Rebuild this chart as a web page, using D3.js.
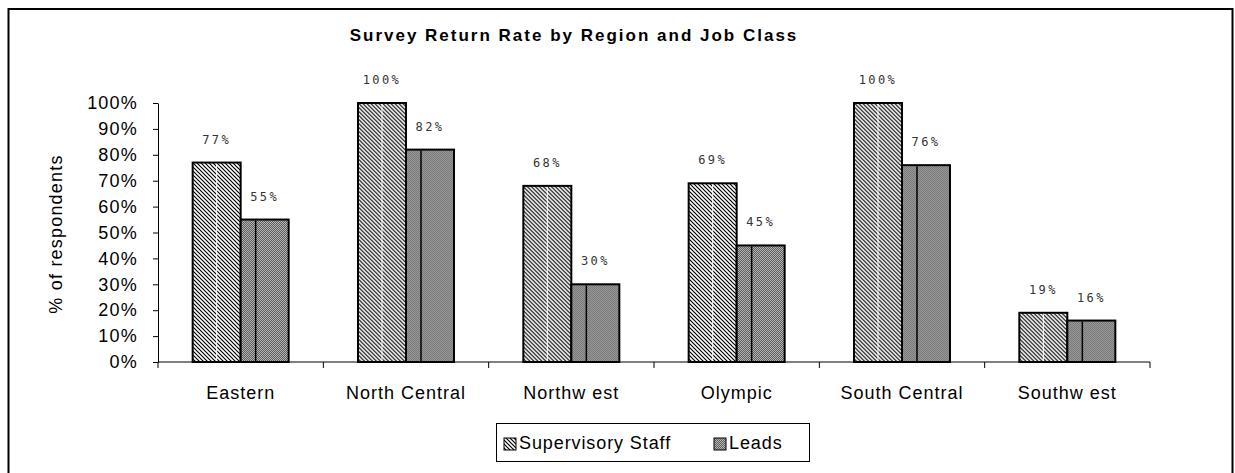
<!DOCTYPE html>
<html>
<head>
<meta charset="utf-8">
<script src="https://d3js.org/d3.v7.min.js"></script>
<style>
  body { margin: 0; background: #fff; }
  svg { display: block; font-family: "Liberation Sans", Arial, sans-serif; }
</style>
</head>
<body>
<div id="chart"></div>
<script>
// Chart data
const regions = ['Eastern', 'North Central', 'Northw est', 'Olympic', 'South Central', 'Southw est'];
const seriesNames = ['Supervisory Staff', 'Leads'];
const supervisory = [0.77, 1.00, 0.68, 0.69, 1.00, 0.19];
const leads = [0.55, 0.82, 0.30, 0.45, 0.76, 0.16];
const yTicks = [0, 0.1, 0.2, 0.3, 0.4, 0.5, 0.6, 0.7, 0.8, 0.9, 1.0];

const width = 1235;
const height = 473;

const svg = d3.select('#chart')
    .append('svg')
    .attr('width', width)
    .attr('height', height);

// Patterns for the bar fills
const defs = svg.append('defs');

const hatch = defs.append('pattern')
    .attr('id', 'hatch')
    .attr('patternUnits', 'userSpaceOnUse')
    .attr('width', 4)
    .attr('height', 4);
hatch.append('rect').attr('width', 4).attr('height', 4).attr('fill', '#fff');
hatch.append('path')
    .attr('d', 'M-1,-1 L5,5 M-1,3 L1,5 M3,-1 L5,1')
    .attr('stroke', '#000')
    .attr('stroke-width', 1.2);

const dense = defs.append('pattern')
    .attr('id', 'dense')
    .attr('patternUnits', 'userSpaceOnUse')
    .attr('width', 2)
    .attr('height', 2);
dense.append('rect').attr('width', 2).attr('height', 2).attr('fill', '#b4b4b4');
dense.append('path')
    .attr('d', 'M0,2 L2,0 M-1,1 L1,-1 M1,3 L3,1')
    .attr('stroke', '#3a3a3a')
    .attr('stroke-width', 0.7);

// Outer border
svg.append('rect')
    .attr('x', 8.5)
    .attr('y', 9)
    .attr('width', 1224)
    .attr('height', 475)
    .attr('fill', 'none')
    .attr('stroke', '#000')
    .attr('stroke-width', 2);

// Scales
const x0 = d3.scaleBand()
    .domain(regions)
    .range([158, 1150]);

const x1 = d3.scaleBand()
    .domain(seriesNames)
    .range([0, x0.bandwidth()])
    .paddingOuter(0.722);

const y = d3.scaleLinear()
    .domain([0, 1])
    .range([362, 103]);

const fills = { 'Supervisory Staff': 'url(#hatch)', 'Leads': 'url(#dense)' };

// Title
svg.append('text')
    .attr('x', 574)
    .attr('y', 41)
    .attr('text-anchor', 'middle')
    .attr('font-size', 17)
    .attr('font-weight', 'bold')
    .attr('letter-spacing', 2)
    .text('Survey Return Rate by Region and Job Class');

// Y axis
const yAxis = svg.append('g')
    .attr('transform', 'translate(158,0)')
    .call(d3.axisLeft(y)
        .tickValues(yTicks)
        .tickFormat(d3.format('.0%'))
        .tickSize(5)
        .tickSizeOuter(0)
        .tickPadding(15));
yAxis.selectAll('path, line').attr('stroke', '#000');
yAxis.selectAll('text')
    .attr('font-size', 18)
    .attr('font-family', '"Liberation Sans", Arial, sans-serif')
    .attr('letter-spacing', 1.2)
    .attr('fill', '#000');

svg.append('text')
    .attr('transform', 'translate(62,234) rotate(-90)')
    .attr('text-anchor', 'middle')
    .attr('font-size', 18)
    .attr('letter-spacing', 1.2)
    .text('% of respondents');

// Bars
const groups = svg.selectAll('g.region')
    .data(regions)
    .enter()
    .append('g')
    .attr('class', 'region')
    .attr('transform', d => `translate(${x0(d)},0)`);

const barData = (d, i) => [
    { name: 'Supervisory Staff', value: supervisory[i] },
    { name: 'Leads', value: leads[i] }
];

groups.selectAll('rect')
    .data(barData)
    .enter()
    .append('rect')
    .attr('x', d => x1(d.name))
    .attr('y', d => y(d.value))
    .attr('width', x1.bandwidth())
    .attr('height', d => y(0) - y(d.value))
    .attr('fill', d => fills[d.name])
    .attr('stroke', '#000')
    .attr('stroke-width', 2);

// tiling seams inside the bars
groups.selectAll('line.seam')
    .data(barData)
    .enter()
    .append('line')
    .attr('class', 'seam')
    .attr('x1', d => x1(d.name) + (d.name === 'Leads' ? 15 : 24))
    .attr('x2', d => x1(d.name) + (d.name === 'Leads' ? 15 : 24))
    .attr('y1', d => y(d.value) + 1)
    .attr('y2', y(0) - 1)
    .attr('stroke', d => d.name === 'Leads' ? '#000' : '#fff')
    .attr('stroke-width', d => d.name === 'Leads' ? 1.5 : 1);

// Value labels
groups.selectAll('text.value')
    .data(barData)
    .enter()
    .append('text')
    .attr('class', 'value')
    .attr('x', d => x1(d.name) + x1.bandwidth() / 2)
    .attr('y', d => y(d.value) - 19)
    .attr('text-anchor', 'middle')
    .attr('font-family', '"DejaVu Sans Mono", monospace')
    .attr('font-size', 12)
    .attr('letter-spacing', 2.4)
    .attr('fill', '#333')
    .text(d => Math.round(d.value * 100) + '%');

// X axis
svg.append('line')
    .attr('x1', 158).attr('x2', 1150)
    .attr('y1', y(0)).attr('y2', y(0))
    .attr('stroke', '#000');

const boundaries = regions.map(r => x0(r)).concat([x0.range()[1]]);
svg.selectAll('line.xtick')
    .data(boundaries)
    .enter()
    .append('line')
    .attr('class', 'xtick')
    .attr('x1', d => d).attr('x2', d => d)
    .attr('y1', y(0)).attr('y2', y(0) + 6)
    .attr('stroke', '#000');

svg.selectAll('text.cat')
    .data(regions)
    .enter()
    .append('text')
    .attr('class', 'cat')
    .attr('x', d => x0(d) + x0.bandwidth() / 2)
    .attr('y', 399)
    .attr('text-anchor', 'middle')
    .attr('font-size', 18)
    .attr('letter-spacing', 1)
    .text(d => d);

// Legend
const legend = svg.append('g');
legend.append('rect')
    .attr('x', 496.5)
    .attr('y', 423.5)
    .attr('width', 313)
    .attr('height', 38)
    .attr('fill', '#fff')
    .attr('stroke', '#000');

const legendX = [504, 714];
seriesNames.forEach((name, i) => {
    legend.append('rect')
        .attr('x', legendX[i])
        .attr('y', 438)
        .attr('width', 12)
        .attr('height', 12)
        .attr('fill', fills[name])
        .attr('stroke', '#000')
        .attr('stroke-width', 1);
    legend.append('text')
        .attr('x', legendX[i] + 15)
        .attr('y', 449)
        .attr('font-size', 18)
        .attr('letter-spacing', 0.9)
        .text(name);
});
</script>
</body>
</html>
